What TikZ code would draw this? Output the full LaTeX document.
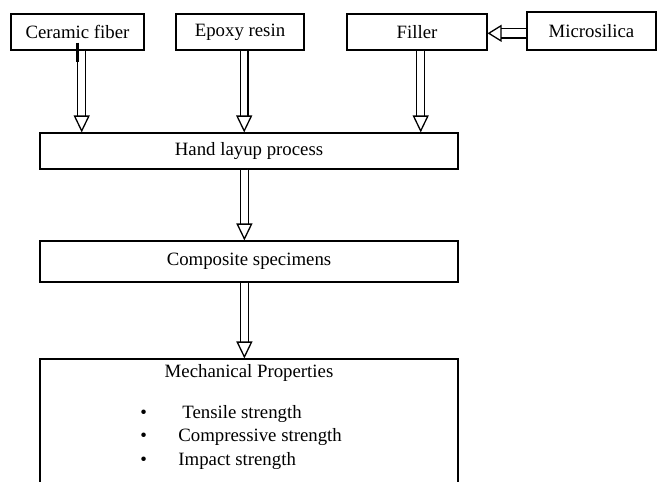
\documentclass[tikz,border=0pt]{standalone}
\usepackage{fontspec}
\setmainfont{Liberation Serif}
\usetikzlibrary{arrows.meta,positioning}

\begin{document}
\begin{tikzpicture}[x=1pt, y=1pt, font=\fontsize{18.8}{23.5}\selectfont]
\tikzstyle{inbox} = [rectangle, minimum height=36pt, inner sep=0pt, text centered, draw=black, line width=1.1pt, fill=white]
\tikzstyle{stagebox} = [rectangle, minimum width=418pt, minimum height=36pt, inner sep=0pt, text centered, draw=black, line width=1.1pt, fill=white]
\tikzstyle{plain} = [inner sep=0pt]
\tikzstyle{harrow} = [draw=black, line width=1.3pt, double=white, double distance=6.5pt, -{Triangle[open, fill=white, length=17pt, width=16pt]}]

\clip (0,0) rectangle (659,-482);

\node (cer) [inbox, minimum width=133pt] at (77.5,-32) {Ceramic fiber};
\node (epo) [inbox, minimum width=128pt] at (240,-32) {Epoxy resin};
\node (fil) [inbox, minimum width=140pt] at (417,-32) {Filler};
\node (mic) [inbox, minimum width=129pt, minimum height=38pt] at (591.5,-31) {Microsilica};

\node (hand) [stagebox] at (249,-151) {Hand layup process};
\node (comp) [stagebox, below of=hand, node distance=110.5pt, minimum height=41pt] {Composite specimens};
\node (mech) [stagebox, below of=comp, node distance=172.5pt, minimum height=150pt] {};

\node (mtitle) [plain, below=5.5pt of mech.north] {Mechanical Properties};
\node (mlist) [plain, anchor=west] at ([xshift=100.7pt, yshift=-3pt]mech.west) {%
  \begin{tabular}{@{}l@{\hspace{31.5pt}}l@{}}
  • & \hspace{4pt}Tensile strength\\
  • & Compressive strength\\
  • & Impact strength
  \end{tabular}};

% feeds into the layup
\coordinate (ca) at ([xshift=4.2pt]cer.south);
\coordinate (ea) at ([xshift=4.2pt]epo.south);
\coordinate (fa) at ([xshift=3.7pt]fil.south);
\coordinate (ma) at ([yshift=-2.3pt]mic.west);
\coordinate (ha) at ([xshift=-4.6pt]hand.south);
\coordinate (sa) at ([xshift=-4.6pt]comp.south);

\draw [harrow] (ca) -- (ca |- hand.north);
\draw [harrow] (ea) -- (ea |- hand.north);
\draw [harrow] (fa) -- (fa |- hand.north);
\draw [harrow, double distance=8pt, -{Triangle[open, fill=white, length=14pt, width=17pt]}] (ma) -- (ma -| fil.east);

\draw [harrow] (ha) -- (ha |- comp.north);
\draw [harrow] (sa) -- (sa |- mech.north);

\draw [line width=2.5pt] ([xshift=-0.2pt, yshift=8pt]cer.south) -- ++(0,-19);
\end{tikzpicture}
\end{document}
